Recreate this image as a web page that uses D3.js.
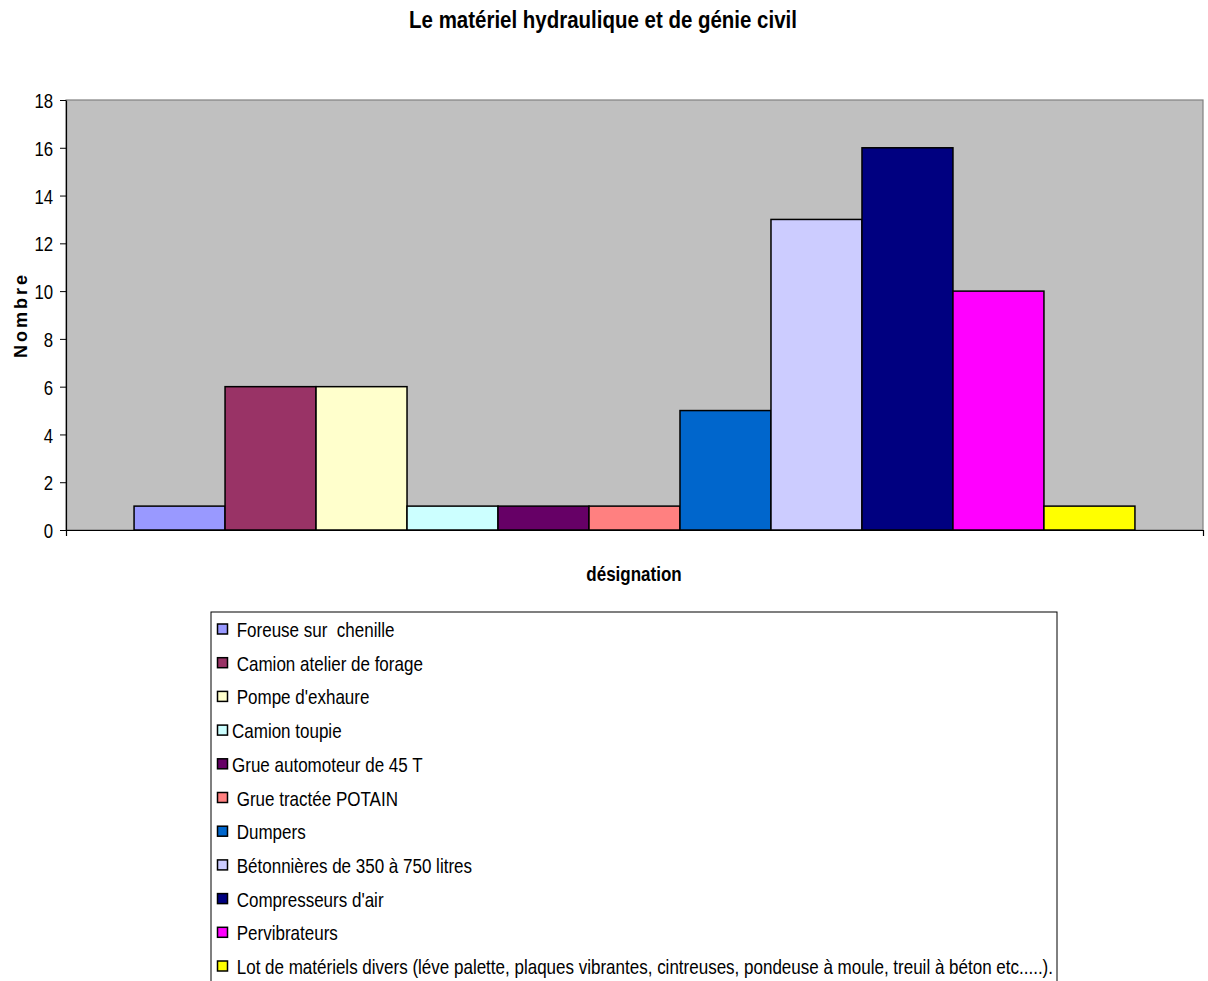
<!DOCTYPE html>
<html>
<head>
<meta charset="utf-8">
<script src="https://cdn.jsdelivr.net/npm/d3@7"></script>
<style>
  html, body { margin: 0; padding: 0; background: #fff; }
  svg { display: block; }
  text { font-family: "Liberation Sans", Arial, sans-serif; fill: #000; white-space: pre; }
</style>
</head>
<body>
<svg id="chart" width="1208" height="981"></svg>
<script>
// Equipment categories (legend labels; leading spaces kept as typed)
const categories = [
  " Foreuse sur  chenille",
  " Camion atelier de forage",
  " Pompe d'exhaure",
  "Camion toupie",
  "Grue automoteur de 45 T",
  " Grue tractée POTAIN",
  " Dumpers",
  " Bétonnières de 350 à 750 litres",
  " Compresseurs d'air",
  " Pervibrateurs",
  " Lot de matériels divers (léve palette, plaques vibrantes, cintreuses, pondeuse à moule, treuil à béton etc.....)."
];
// Number of units per category
const counts = [1, 6, 6, 1, 1, 1, 5, 13, 16, 10, 1];
// Fill colour per category
const colors = ["#9999ff", "#993366", "#ffffcc", "#ccffff", "#660066", "#ff8080",
                "#0066cc", "#ccccff", "#000080", "#ff00ff", "#ffff00"];
// Single x-axis group
const groups = ["désignation"];
// Y-axis tick values
const yTicks = [0, 2, 4, 6, 8, 10, 12, 14, 16, 18];

const svg = d3.select("#chart");
const plot = { left: 66, top: 100, right: 1203, bottom: 530 };

// helper: horizontally condensed text
function label(parent, x, y, str, opts) {
  const o = Object.assign({ size: 20, sx: 0.84, weight: "normal", anchor: "start", rotate: 0 }, opts || {});
  return parent.append("text")
    .attr("transform", `translate(${x},${y}) rotate(${o.rotate}) scale(${o.sx},1)`)
    .attr("font-size", o.size)
    .attr("font-weight", o.weight)
    .attr("text-anchor", o.anchor)
    .attr("letter-spacing", o.spacing || null)
    .text(str);
}

// Scales
const y = d3.scaleLinear().domain([0, 18]).range([plot.bottom, plot.top]);
const x0 = d3.scaleBand().domain(groups).range([plot.left, plot.right])
  .paddingInner(0).paddingOuter(0.068);
const x1 = d3.scaleBand().domain(categories).range([0, x0.bandwidth()]).padding(0);

// Plot background
svg.append("rect")
  .attr("x", plot.left).attr("y", plot.top)
  .attr("width", plot.right - plot.left).attr("height", plot.bottom - plot.top)
  .attr("fill", "#c0c0c0").attr("stroke", "#808080").attr("stroke-width", 1.2);

// Bars
const data = categories.map((c, i) => ({ name: c, value: counts[i], color: colors[i] }));
svg.append("g")
  .attr("transform", `translate(${x0(groups[0])},0)`)
  .selectAll("rect")
  .data(data)
  .join("rect")
  .attr("x", d => x1(d.name))
  .attr("y", d => y(d.value))
  .attr("width", x1.bandwidth())
  .attr("height", d => y(0) - y(d.value))
  .attr("fill", d => d.color)
  .attr("stroke", "#000")
  .attr("stroke-width", 1.5);

// Y axis
const yAxis = svg.append("g")
  .attr("transform", `translate(${plot.left},0)`)
  .call(d3.axisLeft(y).tickValues(yTicks).tickSize(6).tickSizeOuter(0).tickPadding(10));
yAxis.select(".domain").attr("stroke", "#000").attr("stroke-width", 1.2);
yAxis.selectAll(".tick line").attr("stroke", "#000");
yAxis.selectAll(".tick text")
  .attr("font-size", 21)
  .attr("font-family", "\"Liberation Sans\", Arial, sans-serif")
  .attr("dy", "0.36em")
  .attr("transform", "scale(0.8,1)");

// X axis (end ticks only)
const xAxis = svg.append("g")
  .attr("transform", `translate(0,${plot.bottom})`)
  .call(d3.axisBottom(x0).tickSize(0).tickSizeOuter(6).tickFormat(""));
xAxis.select(".domain").attr("stroke", "#000").attr("stroke-width", 1.2);

// Titles
label(svg, 603, 28, "Le matériel hydraulique et de génie civil", { size: 23, sx: 0.89, weight: "bold", anchor: "middle" });
label(svg, 634, 581, "désignation", { size: 20, sx: 0.85, weight: "bold", anchor: "middle" });
label(svg, 27, 315, "Nombre", { size: 18, sx: 1, weight: "bold", anchor: "middle", rotate: -90, spacing: 3 });

// Legend
const legend = svg.append("g");
legend.append("rect")
  .attr("x", 211).attr("y", 612).attr("width", 846).attr("height", 420)
  .attr("fill", "#fff").attr("stroke", "#000").attr("stroke-width", 1);
const rowY = d3.scalePoint().domain(categories).range([629, 966]);
const items = legend.selectAll("g.item").data(data).join("g").attr("class", "item");
items.append("rect")
  .attr("x", 217.5).attr("y", d => rowY(d.name) - 5)
  .attr("width", 10).attr("height", 10)
  .attr("fill", d => d.color).attr("stroke", "#000").attr("stroke-width", 1.5);
items.each(function (d) {
  label(d3.select(this), 232, rowY(d.name) + 8, d.name, { size: 21, sx: 0.81 });
});
</script>
</body>
</html>
